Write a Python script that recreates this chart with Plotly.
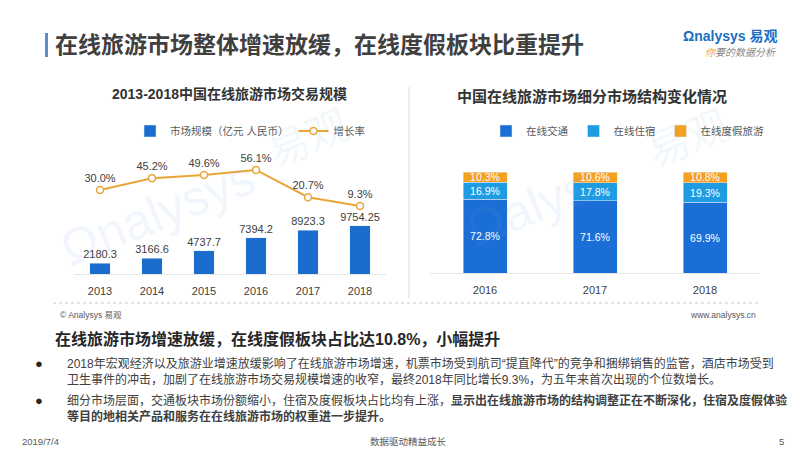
import plotly.graph_objects as go

W, H = 800, 450
FONT = "Arial, 'Liberation Sans', 'Noto Sans CJK SC', sans-serif"

# left chart: market size + growth rate
years = ["2013", "2014", "2015", "2016", "2017", "2018"]
market_size = [2180.3, 3166.6, 4737.7, 7394.2, 8923.3, 9754.25]
growth_rate = [30.0, 45.2, 49.6, 56.1, 20.7, 9.3]

# right chart: segment structure (%)
seg_years = ["2016", "2017", "2018"]
transport = [72.8, 71.6, 69.9]
lodging = [16.9, 17.8, 19.3]
vacation = [10.3, 10.6, 10.8]


def px_x(x):
    return x / W


def px_y(y):
    return 1 - y / H


fig = go.Figure()

fig.add_trace(go.Bar(
    x=years, y=market_size, name="市场规模（亿元 人民币）",
    marker_color="#1a6dcc", text=[str(v) for v in market_size],
    textposition="outside", constraintext="none", cliponaxis=False,
    textfont=dict(size=11, color="#404040"),
    xaxis="x", yaxis="y", legend="legend"))

fig.add_trace(go.Scatter(
    x=years, y=growth_rate, name="增长率", mode="lines+markers+text",
    line=dict(color="#e9a53a", width=2),
    marker=dict(size=7, color="white", line=dict(color="#e9a53a", width=1.5)),
    text=[f"{v:.1f}%" for v in growth_rate], textposition="top center",
    textfont=dict(size=11, color="#404040"), cliponaxis=False,
    xaxis="x", yaxis="y2", legend="legend"))

for name, vals, col in [("在线交通", transport, "#1b6ed6"),
                        ("在线住宿", lodging, "#1f9be3"),
                        ("在线度假旅游", vacation, "#f5a01e")]:
    fig.add_trace(go.Bar(
        x=seg_years, y=vals, name=name, marker_color=col,
        text=[f"{v:.1f}%" for v in vals], textposition="inside",
        insidetextanchor="middle", constraintext="none",
        textfont=dict(size=10.5, color="white"),
        xaxis="x3", yaxis="y3", legend="legend2"))

shapes = [
    dict(type="rect", xref="paper", yref="paper", x0=px_x(37), x1=px_x(40),
         y0=px_y(49), y1=px_y(25), fillcolor="#5b8bd0", line_width=0),
    dict(type="line", xref="paper", yref="paper", x0=px_x(401), x1=px_x(401),
         y0=px_y(290), y1=px_y(79), line=dict(color="#dcdcdc", width=1)),
    dict(type="line", xref="paper", yref="paper", x0=px_x(45), x1=px_x(750),
         y0=px_y(295), y1=px_y(295), line=dict(color="#c8c8c8", width=1, dash="dot")),
]

annotations = [
    dict(text="<b>在线旅游市场整体增速放缓，在线度假板块比重提升</b>", x=px_x(45), y=px_y(37),
         xanchor="left", yanchor="middle", font=dict(size=23, color="#404040")),
    dict(text="<b>Ωnalysys 易观</b>", x=px_x(772), y=px_y(28), xanchor="right",
         yanchor="middle", font=dict(size=14, color="#1a6fc4")),
    dict(text="<i><span style='color:#f0a030'>你</span>要的数据分析</i>", x=px_x(770),
         y=px_y(45), xanchor="right", yanchor="middle", font=dict(size=10, color="#8a8a8a")),
    dict(text="<b>2013-2018中国在线旅游市场交易规模</b>", x=px_x(221), y=px_y(86),
         xanchor="center", yanchor="middle", font=dict(size=14, color="#333333")),
    dict(text="<b>中国在线旅游市场细分市场结构变化情况</b>", x=px_x(584), y=px_y(88),
         xanchor="center", yanchor="middle", font=dict(size=15, color="#333333")),
    dict(text="© Analysys 易观", x=px_x(50), y=px_y(307), xanchor="left",
         yanchor="middle", font=dict(size=8.5, color="#595959")),
    dict(text="www.analysys.cn", x=px_x(750), y=px_y(307), xanchor="right",
         yanchor="middle", font=dict(size=8.5, color="#595959")),
    dict(text="<b>在线旅游市场增速放缓，在线度假板块占比达10.8%，小幅提升</b>", x=px_x(45),
         y=px_y(331), xanchor="left", yanchor="middle", font=dict(size=16, color="#262626")),
    dict(text="●", x=px_x(31), y=px_y(355), xanchor="center", yanchor="middle",
         font=dict(size=13, color="#262626")),
    dict(text="2018年宏观经济以及旅游业增速放缓影响了在线旅游市场增速，机票市场受到航司“提直降代”的竞争和捆绑销售的监管，酒店市场受到"
              "<br>卫生事件的冲击，加剧了在线旅游市场交易规模增速的收窄，最终2018年同比增长9.3%，为五年来首次出现的个位数增长。",
         x=px_x(57), y=px_y(363), xanchor="left", yanchor="middle", align="left",
         font=dict(size=12, color="#404040")),
    dict(text="●", x=px_x(31), y=px_y(392), xanchor="center", yanchor="middle",
         font=dict(size=13, color="#262626")),
    dict(text="细分市场层面，交通板块市场份额缩小，住宿及度假板块占比均有上涨，<b>显示出在线旅游市场的结构调整正在不断深化，住宿及度假体验"
              "<br>等目的地相关产品和服务在在线旅游市场的权重进一步提升。</b>",
         x=px_x(57), y=px_y(400), xanchor="left", yanchor="middle", align="left",
         font=dict(size=12, color="#404040")),
    dict(text="2019/7/4", x=px_x(12), y=px_y(433), xanchor="left", yanchor="middle",
         font=dict(size=9.5, color="#595959")),
    dict(text="数据驱动精益成长", x=px_x(400), y=px_y(433), xanchor="center", yanchor="middle",
         font=dict(size=9.5, color="#595959")),
    dict(text="5", x=px_x(778), y=px_y(433), xanchor="right", yanchor="middle",
         font=dict(size=9.5, color="#595959")),
]

# faint watermarks
for cx, cy, txt, size in [(150, 205, "Ωnalysys", 50), (300, 130, "易观", 42),
                          (520, 200, "Ωalys", 50), (680, 130, "易观", 42)]:
    annotations.append(dict(text=txt, x=px_x(cx), y=px_y(cy), xanchor="center",
                            yanchor="middle", textangle=-22, showarrow=False,
                            font=dict(size=size, color="rgba(110,170,220,0.10)")))

for a in annotations:
    a.setdefault("xref", "paper")
    a.setdefault("yref", "paper")
    a.setdefault("showarrow", False)

fig.update_layout(
    width=W, height=H, margin=dict(l=0, r=0, t=0, b=0),
    paper_bgcolor="white", plot_bgcolor="rgba(0,0,0,0)",
    font=dict(family=FONT, color="#404040"),
    barmode="stack", bargap=0.6,
    xaxis=dict(domain=[px_x(66), px_x(378)], anchor="y", showgrid=False,
               showline=True, linecolor="#e6e6e6", ticks="outside", ticklen=7,
               tickcolor="rgba(0,0,0,0)", tickfont=dict(size=11, color="#404040")),
    yaxis=dict(domain=[px_y(266), px_y(130)], range=[0, 27600], visible=False),
    yaxis2=dict(overlaying="y", range=[-79, 97.5], visible=False),
    xaxis3=dict(domain=[px_x(422), px_x(752)], anchor="y3", showgrid=False,
                showline=True, linecolor="#e6e6e6", ticks="outside", ticklen=7,
                tickcolor="rgba(0,0,0,0)", tickfont=dict(size=11, color="#404040")),
    yaxis3=dict(domain=[px_y(265), px_y(164)], range=[0, 100], visible=False),
    legend=dict(orientation="h", x=px_x(122), y=px_y(123), xanchor="left",
                yanchor="middle", itemwidth=30, traceorder="normal",
                font=dict(size=10.5, color="#595959"), bgcolor="rgba(0,0,0,0)"),
    legend2=dict(orientation="h", x=px_x(478), y=px_y(123), xanchor="left",
                 yanchor="middle", itemwidth=30, traceorder="normal",
                 font=dict(size=10.5, color="#595959"), bgcolor="rgba(0,0,0,0)"),
    shapes=shapes, annotations=annotations,
)

fig.write_html("out.html")
